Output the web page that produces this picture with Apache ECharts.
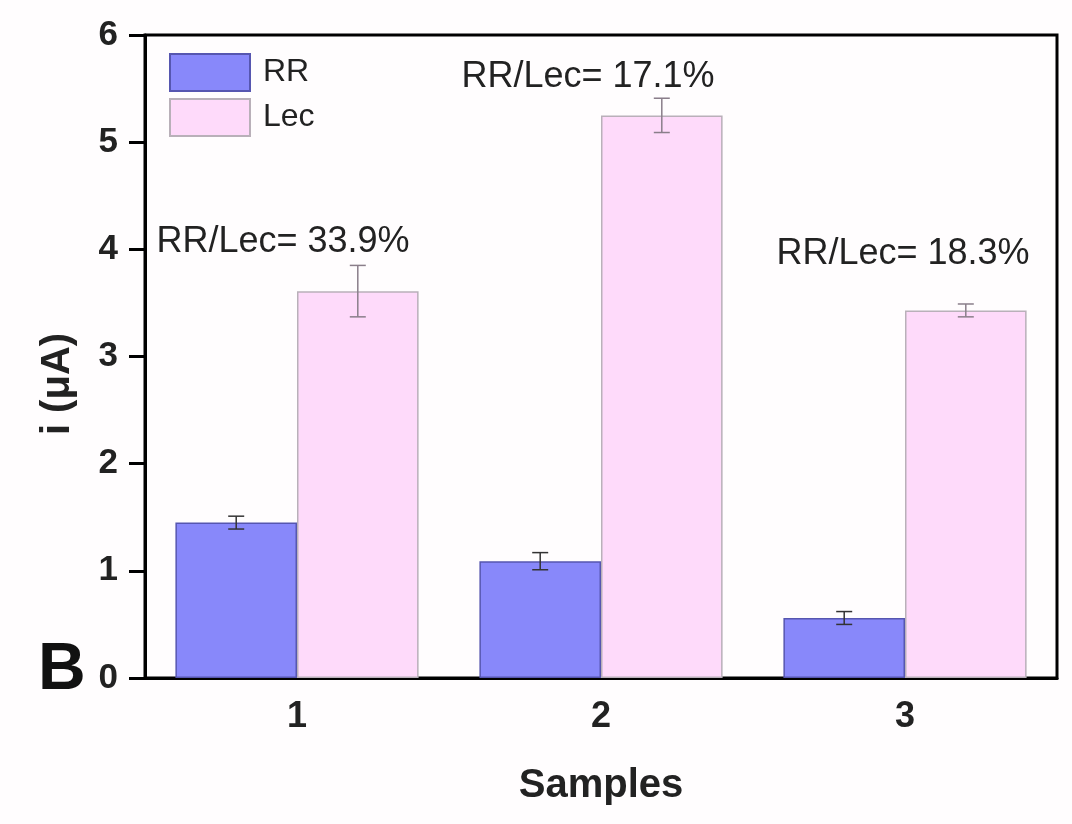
<!DOCTYPE html>
<html>
<head>
<meta charset="utf-8">
<script src="https://cdn.jsdelivr.net/npm/echarts@6/dist/echarts.min.js"></script>
<style>
html,body{margin:0;padding:0;background:#fffdfe;}
#chart{width:1072px;height:824px;}
</style>
</head>
<body>
<div id="chart"></div>
<script>
var categories = ['1', '2', '3'];
var rrValues = [1.45, 1.09, 0.56];
var rrErrors = [0.06, 0.08, 0.06];
var lecValues = [3.61, 5.25, 3.43];
var lecErrors = [0.24, 0.16, 0.06];
var ratioLabels = ['RR/Lec= 33.9%', 'RR/Lec= 17.1%', 'RR/Lec= 18.3%'];
var yTicks = [0, 1, 2, 3, 4, 5, 6];

var FONT = '"Liberation Sans", Arial, sans-serif';

function errData(vals, errs) {
  return vals.map(function (v, i) { return [i, v, errs[i]]; });
}
function errRender(offsetFrac, color) {
  return function (params, api) {
    var c = api.value(0), v = api.value(1), e = api.value(2);
    var band = api.size([1, 0])[0];
    var top = api.coord([c, v + e]);
    var bot = api.coord([c, v - e]);
    var x = top[0] + offsetFrac * band;
    var hw = 8;
    var st = { stroke: color, lineWidth: 1.5 };
    return {
      type: 'group',
      children: [
        { type: 'line', shape: { x1: x, y1: top[1], x2: x, y2: bot[1] }, style: st },
        { type: 'line', shape: { x1: x - hw, y1: top[1], x2: x + hw, y2: top[1] }, style: st },
        { type: 'line', shape: { x1: x - hw, y1: bot[1], x2: x + hw, y2: bot[1] }, style: st }
      ]
    };
  };
}

var chart = echarts.init(document.getElementById('chart'));
var labelPos = [[283, 242], [588, 77], [903, 254]];

chart.setOption({
  backgroundColor: '#fffdfe',
  animation: false,
  grid: {
    left: 145, right: 15, top: 35, bottom: 146,
    show: true, borderColor: '#000', borderWidth: 3, backgroundColor: 'transparent'
  },
  legend: {
    orient: 'vertical',
    left: 164, top: 48,
    icon: 'rect',
    itemWidth: 80, itemHeight: 37, itemGap: 6,
    data: ['RR', 'Lec'],
    textStyle: { fontFamily: FONT, fontSize: 32, color: '#222', padding: [0, 0, 0, 8] }
  },
  xAxis: {
    type: 'category',
    data: categories,
    name: 'Samples',
    nameLocation: 'middle',
    nameGap: 88,
    nameTextStyle: { fontFamily: FONT, fontSize: 40, fontWeight: 'bold', color: '#222' },
    axisLine: { lineStyle: { color: '#000', width: 3 } },
    axisTick: { alignWithLabel: true, length: 15, lineStyle: { color: '#000', width: 3 } },
    axisLabel: { fontFamily: FONT, fontSize: 36, fontWeight: 'bold', color: '#222', margin: 21 }
  },
  yAxis: {
    type: 'value',
    min: 0, max: 6, interval: 1,
    splitLine: { show: false },
    axisLine: { show: true, lineStyle: { color: '#000', width: 3 } },
    axisTick: { show: true, length: 16, lineStyle: { color: '#000', width: 3 } },
    axisLabel: {
      fontFamily: FONT, fontSize: 35, fontWeight: 'bold', color: '#222', margin: 27,
      formatter: function (v) { return yTicks.indexOf(v) >= 0 ? String(v) : ''; }
    }
  },
  graphic: [
    { type: 'text', left: 38, top: 638, style: { text: 'B', fontFamily: FONT, fontSize: 66, fontWeight: 'bold', fill: '#111' } },
    { type: 'text', x: 58, y: 384, rotation: Math.PI / 2,
      style: { text: 'i (μA)', fontFamily: FONT, fontSize: 40, fontWeight: 'bold', fill: '#222', align: 'center', verticalAlign: 'middle' } }
  ].concat(ratioLabels.map(function (t, i) {
    return {
      type: 'text', x: labelPos[i][0], y: labelPos[i][1],
      style: { text: t, fontFamily: FONT, fontSize: 36, fill: '#222', align: 'center', verticalAlign: 'middle' }
    };
  })),
  series: [
    {
      name: 'RR', type: 'bar', data: rrValues,
      barGap: '0%', barCategoryGap: '20%',
      itemStyle: { color: '#8888fa', borderColor: '#5656b0', borderWidth: 1.5 }
    },
    {
      name: 'Lec', type: 'bar', data: lecValues,
      itemStyle: { color: '#fedafa', borderColor: '#b9b0b9', borderWidth: 1.5 }
    },
    {
      type: 'custom', name: 'RR err', data: errData(rrValues, rrErrors),
      encode: { x: 0, y: 1 }, z: 5,
      renderItem: errRender(-0.2, '#333')
    },
    {
      type: 'custom', name: 'Lec err', data: errData(lecValues, lecErrors),
      encode: { x: 0, y: 1 }, z: 5,
      renderItem: errRender(0.2, '#8a7e8a')
    }
  ]
});
</script>
</body>
</html>
